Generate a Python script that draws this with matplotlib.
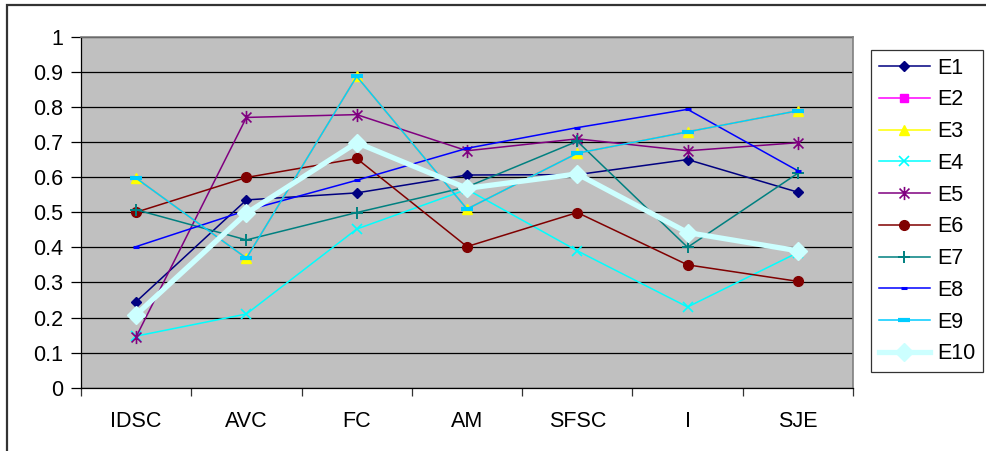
import matplotlib
matplotlib.use("Agg")
import matplotlib.pyplot as plt
from matplotlib.lines import Line2D
from matplotlib.patches import Rectangle
from matplotlib.path import Path

plt.rcParams['font.family'] = ['Liberation Sans', 'DejaVu Sans']
FS = 15.5

categories = ['IDSC', 'AVC', 'FC', 'AM', 'SFSC', 'I', 'SJE']

E1 = [0.245, 0.535, 0.555, 0.606, 0.607, 0.650, 0.557]
E2 = [0.597, 0.369, 0.887, 0.509, 0.668, 0.729, 0.789]
E3 = [0.597, 0.369, 0.887, 0.509, 0.668, 0.729, 0.789]
E4 = [0.147, 0.210, 0.452, 0.565, 0.390, 0.230, 0.385]
E5 = [0.145, 0.770, 0.778, 0.675, 0.709, 0.675, 0.698]
E6 = [0.500, 0.599, 0.653, 0.402, 0.499, 0.350, 0.303]
E7 = [0.507, 0.421, 0.499, 0.572, 0.702, 0.400, 0.611]
E8 = [0.402, 0.505, 0.591, 0.682, 0.741, 0.793, 0.618]
E9 = [0.597, 0.369, 0.887, 0.509, 0.668, 0.729, 0.789]
E10 = [0.208, 0.497, 0.698, 0.568, 0.609, 0.442, 0.390]

series = [E1, E2, E3, E4, E5, E6, E7, E8, E9, E10]
names = ['E1', 'E2', 'E3', 'E4', 'E5', 'E6', 'E7', 'E8', 'E9', 'E10']

# asterisk: vertical bar plus two diagonals
M, L = Path.MOVETO, Path.LINETO
star = Path([(0, -1), (0, 1), (-0.75, -0.75), (0.75, 0.75), (-0.75, 0.75), (0.75, -0.75)],
            [M, L, M, L, M, L])

# (color, marker, markersize, mew, linewidth)
styles = [
    ('#000080', 'D', 5.5, 1.0, 1.1),
    ('#FF00FF', 's', 6.0, 1.0, 1.1),
    ('#FFFF00', '^', 7.5, 1.0, 1.1),
    ('#00FFFF', 'x', 7.5, 1.2, 1.1),
    ('#800080', star, 9.5, 1.2, 1.1),
    ('#800000', 'o', 7.0, 1.0, 1.1),
    ('#008080', '+', 9.0, 1.4, 1.1),
    ('#0000FF', '_', 5.0, 2.2, 1.1),
    ('#00CCFF', '_', 8.0, 3.0, 1.1),
    ('#CCFFFF', 'D', 9.5, 1.0, 3.8),
]

fig = plt.figure(figsize=(9.86, 4.51), dpi=100)
ax = fig.add_axes([81 / 986, 1 - 387.7 / 451, 772 / 986, 351 / 451])
ax.set_facecolor('#C0C0C0')

x = [i + 0.5 for i in range(len(categories))]
for k, (vals, (c, m, ms, mew, lw)) in enumerate(zip(series, styles)):
    size = ms
    if names[k] == 'E2':
        size = 3  # sits underneath E3/E9
    ax.plot(x, vals, color=c, marker=m, markersize=size, markeredgewidth=mew,
            markerfacecolor=c, markeredgecolor=c, linewidth=lw, zorder=3 + k)

ax.set_xlim(0, 7)
ax.set_ylim(0, 1)
ax.set_yticks([i / 10 for i in range(11)])
ax.set_yticklabels(['0', '0.1', '0.2', '0.3', '0.4', '0.5', '0.6', '0.7', '0.8', '0.9', '1'],
                   fontsize=FS)
ax.set_xticks(range(8))
ax.set_xticklabels([])
ax.set_xticks(x, minor=True)
ax.set_xticklabels(categories, minor=True, fontsize=FS)
ax.tick_params(axis='x', which='major', direction='out', length=6, width=0.9, color='#333333')
ax.tick_params(axis='x', which='minor', length=0, pad=17)
ax.tick_params(axis='y', direction='out', length=7, width=0.9, pad=6)
ax.yaxis.grid(True, color='black', linewidth=0.9)
ax.set_axisbelow(True)
for s in ['left', 'bottom']:
    ax.spines[s].set_color('black')
    ax.spines[s].set_linewidth(0.9)
for s in ['top', 'right']:
    ax.spines[s].set_color('#808080')
    ax.spines[s].set_linewidth(1.2)

handles = []
for (c, m, ms, mew, lw) in styles:
    handles.append(Line2D([], [], color=c, marker=m, markersize=ms, markeredgewidth=mew,
                          markerfacecolor=c, markeredgecolor=c, linewidth=lw))
leg = fig.legend(handles, names, loc='upper left', bbox_to_anchor=(871 / 986, 1 - 50 / 451),
                 fontsize=FS, frameon=True, fancybox=False, borderpad=0.35,
                 handlelength=2.4, handletextpad=0.33, labelspacing=0.5,
                 borderaxespad=0)
leg.get_frame().set_edgecolor('black')
leg.get_frame().set_linewidth(0.9)

# outer chart frame
fig.patches.append(Rectangle((7 / 986, -0.1), 1.2, 1 - 5 / 451 + 0.1, transform=fig.transFigure,
                             fill=False, edgecolor='#333333', linewidth=1.6))

fig.savefig('out.png', dpi=100)
